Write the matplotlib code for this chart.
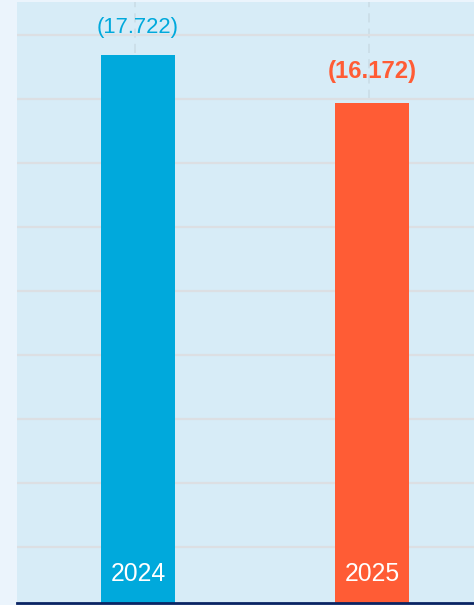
import numpy as np
import matplotlib
matplotlib.use("Agg")
import matplotlib.pyplot as plt

# Data
years = ["2024", "2025"]
values = [17.722, 16.172]
value_labels = ["(17.722)", "(16.172)"]
bar_colors = ["#00A9DC", "#FF5C35"]
label_weights = ["normal", "bold"]
label_sizes = [15.8, 17.2]
label_gap_px = [17, 20]

plt.rcParams["font.family"] = ["Liberation Sans", "DejaVu Sans"]

fig = plt.figure(figsize=(4.74, 6.05), dpi=100)
fig.patch.set_facecolor("#EBF4FC")
ax = fig.add_axes([17 / 474, 2 / 605, 457 / 474, 601 / 605])
ax.set_facecolor("#D7ECF7")

x = np.arange(len(years))
ax.bar(x, values, width=0.316, color=bar_colors, zorder=3)

ax.set_xlim(-0.517, 1.436)
ax.set_ylim(0, 19.44)

# grid: solid horizontal lines, dashed vertical guides near each bar
ax.set_yticks(np.linspace(1.81, 18.38, 9))
ax.set_xticks(x - 0.0128)
ax.grid(axis="y", color="#DCDFE3", linewidth=1.6, zorder=1)
ax.grid(axis="x", color="#C9DCE6", linewidth=1.1, linestyle=(0, (6, 4)), zorder=1)
ax.tick_params(left=False, bottom=False, labelleft=False, labelbottom=False)

for s in ["top", "right", "left"]:
    ax.spines[s].set_visible(False)
ax.spines["bottom"].set_color("#0A2463")
ax.spines["bottom"].set_linewidth(2)
ax.spines["bottom"].set_zorder(5)

for xi, v, lab, col, w, fs, gap in zip(x, values, value_labels, bar_colors,
                                       label_weights, label_sizes, label_gap_px):
    ax.annotate(lab, xy=(xi, v), xytext=(0, gap), textcoords="offset pixels",
                ha="center", va="bottom", color=col, fontsize=fs, fontweight=w, zorder=4)

for xi, yr in zip(x, years):
    ax.annotate(yr, xy=(xi, 0), xytext=(0, 22), textcoords="offset pixels",
                ha="center", va="baseline", color="white", fontsize=17.8, zorder=4)

fig.savefig("out.png", dpi=100, facecolor=fig.get_facecolor())
